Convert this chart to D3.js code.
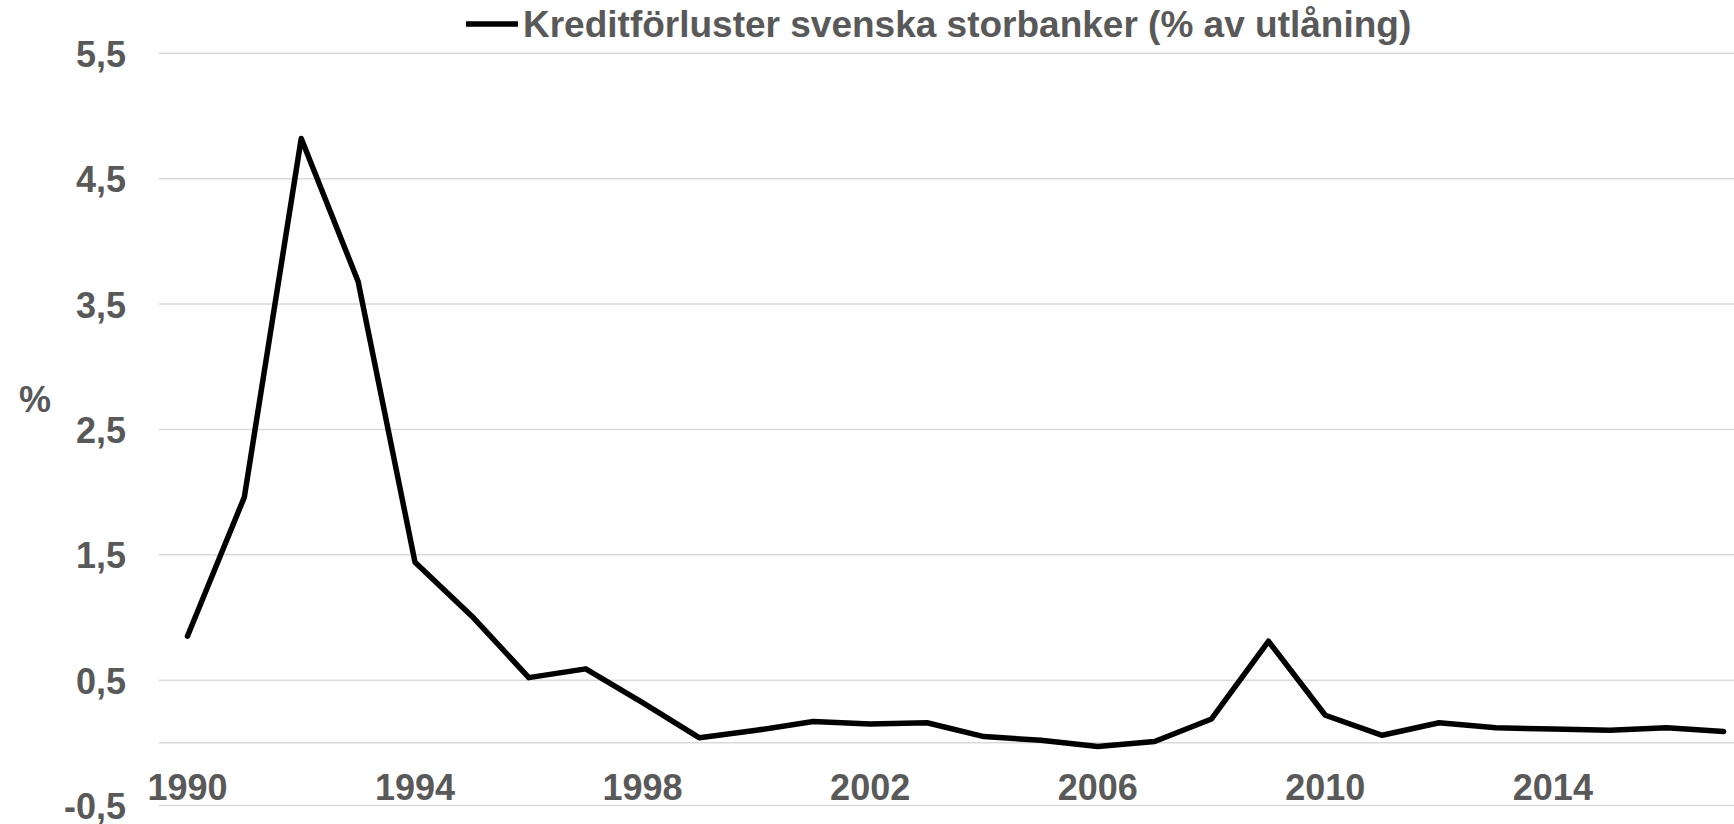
<!DOCTYPE html>
<html>
<head>
    <meta charset="utf-8">
    <title>Kreditförluster svenska storbanker</title>
    <script src="https://cdn.jsdelivr.net/npm/d3@7"></script>
    <style>
    body { margin: 0; background: #fff; }
    text { font-family: "Liberation Sans", Arial, sans-serif; font-weight: bold; fill: #595959; }
    .grid { stroke: #d9d9d9; stroke-width: 1.5; }
    .serie { fill: none; stroke: #000; stroke-width: 5.5; stroke-linejoin: round; stroke-linecap: round; }
    </style>
</head>
<body>
<div id="chart"></div>

<script>
    // år och kreditförluster (% av utlåning)
    var years = [1990, 1991, 1992, 1993, 1994, 1995, 1996, 1997, 1998, 1999,
                 2000, 2001, 2002, 2003, 2004, 2005, 2006, 2007, 2008, 2009,
                 2010, 2011, 2012, 2013, 2014, 2015, 2016, 2017];
    var losses = [0.85, 1.96, 4.82, 3.68, 1.44, 1.01, 0.52, 0.59, 0.32, 0.04,
                  0.10, 0.17, 0.15, 0.16, 0.05, 0.02, -0.03, 0.01, 0.19, 0.81,
                  0.22, 0.06, 0.16, 0.12, 0.11, 0.10, 0.12, 0.09];
    var yTicks = [-0.5, 0.5, 1.5, 2.5, 3.5, 4.5, 5.5];
    var xTicks = [1990, 1994, 1998, 2002, 2006, 2010, 2014];
    var seriesName = "Kreditförluster svenska storbanker (% av utlåning)";

    var w = 1734;
    var h = 824;

    var svg = d3.select("#chart")
        .append("svg")
        .attr("width", w)
        .attr("height", h);

    // the category axis runs a little past the right edge of the picture
    var x = d3.scaleBand()
        .domain(years)
        .range([159, 1752]);

    var y = d3.scaleLinear()
        .domain([-0.5, 5.5])
        .range([805.5, 53.3]);

    // swedish style numbers: decimal comma, plain hyphen for minus
    var comma = d3.formatLocale({decimal: ",", thousands: " ", grouping: [3], currency: ["", " kr"], minus: "-"}).format(".1f");

    // gridlines + the zero line
    svg.selectAll("line.grid")
        .data(yTicks.concat([0]))
        .enter()
        .append("line")
        .attr("class", "grid")
        .attr("x1", 159)
        .attr("x2", w)
        .attr("y1", function(d) { return y(d); })
        .attr("y2", function(d) { return y(d); });

    // y axis labels
    var yAxis = svg.append("g")
        .attr("transform", "translate(126,0)")
        .call(d3.axisLeft(y).tickValues(yTicks).tickFormat(comma).tickSize(0).tickPadding(0));
    yAxis.select(".domain").remove();
    yAxis.selectAll("text")
        .style("font-size", "36px")
        .attr("dy", "0.36em");

    // x axis labels
    var xAxis = svg.append("g")
        .attr("transform", "translate(0," + y(0) + ")")
        .call(d3.axisBottom(x).tickValues(xTicks).tickSize(0));
    xAxis.select(".domain").remove();
    xAxis.selectAll("text")
        .style("font-size", "36px")
        .attr("y", 57)
        .attr("dy", 0);

    // axis title
    svg.append("text")
        .attr("x", 35)
        .attr("y", 399)
        .attr("dy", "0.36em")
        .attr("text-anchor", "middle")
        .style("font-size", "36px")
        .text("%");

    // the line
    var line = d3.line()
        .x(function(d, i) { return x(years[i]) + x.bandwidth() / 2; })
        .y(function(d) { return y(d); });

    svg.append("path")
        .datum(losses)
        .attr("class", "serie")
        .attr("d", line);

    // legend on top
    svg.append("line")
        .attr("x1", 466)
        .attr("x2", 518)
        .attr("y1", 24)
        .attr("y2", 24)
        .attr("stroke", "#000")
        .attr("stroke-width", 5.5);

    svg.append("text")
        .attr("x", 523)
        .attr("y", 37)
        .style("font-size", "37px")
        .text(seriesName);
</script>
</body>
</html>
